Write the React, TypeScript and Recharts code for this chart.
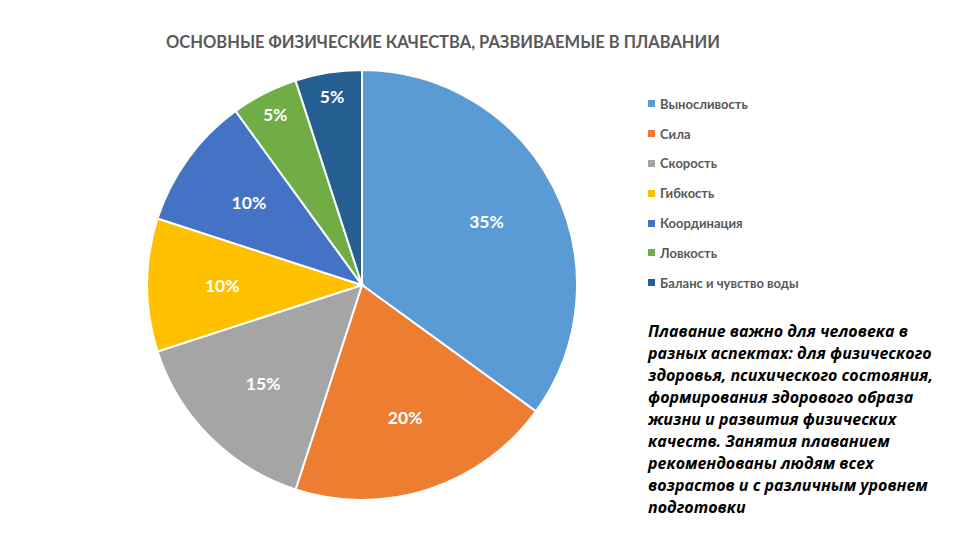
import React from 'react';
import { PieChart, Pie, Cell } from 'recharts';

const categories = ['Выносливость', 'Сила', 'Скорость', 'Гибкость', 'Координация', 'Ловкость', 'Баланс и чувство воды'];
const shares = [35, 20, 15, 10, 10, 5, 5];
const colors = ['#5B9BD5', '#ED7D31', '#A5A5A5', '#FFC000', '#4472C4', '#70AD47', '#255E91'];

const title = 'ОСНОВНЫЕ ФИЗИЧЕСКИЕ КАЧЕСТВА, РАЗВИВАЕМЫЕ В ПЛАВАНИИ';
const noteLines = [
  'Плавание важно для человека в',
  'разных аспектах: для физического',
  'здоровья, психического состояния,',
  'формирования здорового образа',
  'жизни и развития физических',
  'качеств. Занятия плаванием',
  'рекомендованы людям всех',
  'возрастов и с различным уровнем',
  'подготовки',
];

const data = categories.map((name, i) => ({ name, value: shares[i] }));

const FONT = 'Lato, "Open Sans", sans-serif';
const RAD = Math.PI / 180;

const renderLabel = (props: any) => {
  const { cx, cy, midAngle, outerRadius, value } = props;
  // small slices get their label pushed out, like Excel's best fit
  const r = outerRadius * (value <= 5 ? 0.89 : 0.65);
  const x = cx + r * Math.cos(-midAngle * RAD);
  const y = cy + r * Math.sin(-midAngle * RAD);
  return (
    <text x={x} y={y} fill="#fff" textAnchor="middle" dominantBaseline="central"
      style={{ fontFamily: FONT, fontSize: 17.5, fontWeight: 700 }}>
      {value}%
    </text>
  );
};

export default function App() {
  return (
    <div style={{ position: 'fixed', left: 0, top: 0, width: 960, height: 540, background: '#fff' }}>
      <div style={{ position: 'absolute', left: 0, top: 32, width: 886, textAlign: 'center',
        fontFamily: FONT, fontSize: 16.5, fontWeight: 700, color: '#595959' }}>
        {title}
      </div>
      <PieChart width={960} height={540} margin={{ top: 0, right: 0, bottom: 0, left: 0 }}>
        <Pie data={data} dataKey="value" nameKey="name" cx={362} cy={285} outerRadius={215}
          startAngle={90} endAngle={-270} stroke="#fff" strokeWidth={2}
          label={renderLabel} labelLine={false} isAnimationActive={false}>
          {data.map((d, i) => (
            <Cell key={d.name} fill={colors[i]} />
          ))}
        </Pie>
      </PieChart>
      <div style={{ position: 'absolute', left: 648, top: 89, fontFamily: FONT }}>
        {categories.map((c, i) => (
          <div key={c} style={{ display: 'flex', alignItems: 'center', height: 29.8 }}>
            <span style={{ width: 7, height: 7, background: colors[i], marginRight: 5, display: 'inline-block' }} />
            <span style={{ fontSize: 13, fontWeight: 700, color: '#595959' }}>{c}</span>
          </div>
        ))}
      </div>
      <div style={{ position: 'absolute', left: 648, top: 320, fontFamily: '"Open Sans", sans-serif', fontSize: 16,
        fontWeight: 700, fontStyle: 'italic', color: '#000', lineHeight: '22px', whiteSpace: 'nowrap' }}>
        {noteLines.map((l, i) => (
          <div key={i}>{l}</div>
        ))}
      </div>
    </div>
  );
}
